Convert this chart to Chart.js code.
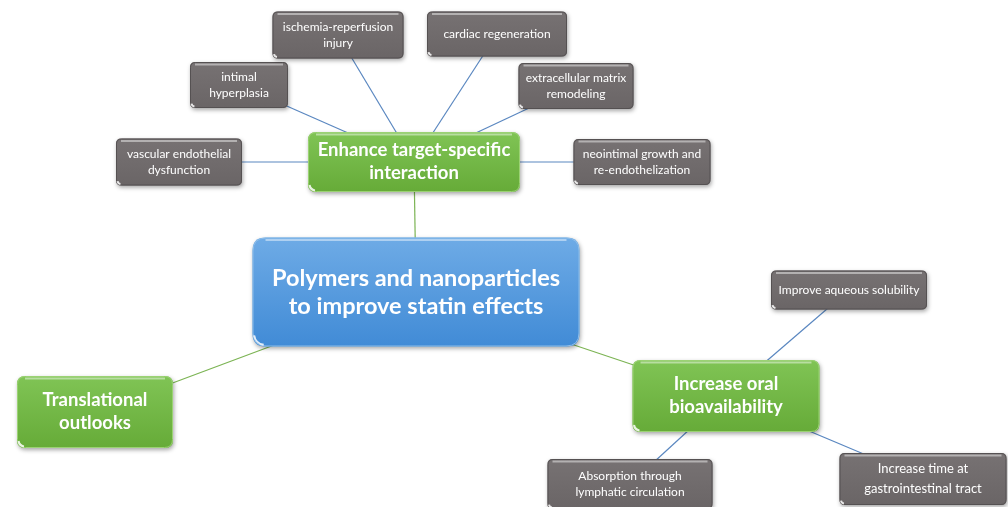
<!DOCTYPE html>
<html>
<head>
<meta charset="utf-8">
<script src="https://cdn.jsdelivr.net/npm/chart.js@4.4.1/dist/chart.umd.min.js"></script>
<style>
  html, body { margin: 0; background: #fff; }
  #map { display: block; }
</style>
</head>
<body>
<canvas id="map" width="1008" height="507"></canvas>
<script>
// mind map nodes (centres in page units, y down)
const nodeLabels = [
  "Polymers and nanoparticles\nto improve statin effects",
  "Enhance target-specific\ninteraction",
  "Translational\noutlooks",
  "Increase oral\nbioavailability",
  "vascular endothelial\ndysfunction",
  "intimal\nhyperplasia",
  "ischemia-reperfusion\ninjury",
  "cardiac regeneration",
  "extracellular matrix\nremodeling",
  "neointimal growth and\nre-endothelization",
  "Improve aqueous solubility",
  "Absorption through\nlymphatic circulation",
  "Increase time at\ngastrointestinal tract",
];
const nodeX = [416, 414, 95, 726, 179, 239, 338, 497, 576, 642, 849, 630, 923];
const nodeY = [292, 162, 412, 396, 162, 85, 35, 34, 86, 162, 290, 484, 479];
const nodeKind = ["root", "branch", "branch", "branch", "leaf", "leaf", "leaf", "leaf", "leaf", "leaf", "leaf", "leaf", "leafLoose"];
const nodeParent = [-1, 0, 0, 0, 1, 1, 1, 1, 1, 1, 3, 3, 3];

// box sizes (px)
const boxW = [327, 212, 156, 187, 126, 98, 131, 140, 115, 137, 156, 165, 167];
const boxH = [109, 60, 72, 72, 47, 46, 47, 45, 46, 46, 39, 50, 52];

const styles = {
  root:      { top: "#6eabe6", bottom: "#418bd6", border: "#8cbde9", radius: 13, font: "bold 23.5px Lato", lh: 28 },
  branch:    { top: "#80c455", bottom: "#66ab38", border: "#9bd274", radius: 8, font: "bold 18.5px Lato", lh: 23 },
  leaf:      { top: "#777273", bottom: "#6a6566", border: "#555152", radius: 5, font: "12px Lato", lh: 16 },
  leafLoose: { top: "#777273", bottom: "#6a6566", border: "#555152", radius: 5, font: "13px Lato", lh: 20 },
};

const linkColor = { leaf: "#5a87c0", leafLoose: "#5a87c0", branch: "#7cb454" };

const roundRect = (ctx, x, y, w, h, r) => {
  ctx.beginPath();
  ctx.moveTo(x + r, y);
  ctx.lineTo(x + w - r, y);
  ctx.quadraticCurveTo(x + w, y, x + w, y + r);
  ctx.lineTo(x + w, y + h - r);
  ctx.quadraticCurveTo(x + w, y + h, x + w - r, y + h);
  ctx.lineTo(x + r, y + h);
  ctx.quadraticCurveTo(x, y + h, x, y + h - r);
  ctx.lineTo(x, y + r);
  ctx.quadraticCurveTo(x, y, x + r, y);
  ctx.closePath();
};

const boxPlugin = {
  id: "boxes",
  afterDatasetsDraw(chart) {
    const ctx = chart.ctx;
    const xs = chart.scales.x, ys = chart.scales.y;
    nodeLabels.forEach((label, i) => {
      const st = styles[nodeKind[i]];
      const cx = xs.getPixelForValue(nodeX[i]);
      const cy = ys.getPixelForValue(nodeY[i]);
      const w = boxW[i], h = boxH[i];
      const x = cx - w / 2, y = cy - h / 2;

      ctx.save();
      ctx.shadowColor = "rgba(0,0,0,0.35)";
      ctx.shadowBlur = 4;
      ctx.shadowOffsetX = 1;
      ctx.shadowOffsetY = 2;
      const g = ctx.createLinearGradient(0, y, 0, y + h);
      g.addColorStop(0, st.top);
      g.addColorStop(1, st.bottom);
      roundRect(ctx, x, y, w, h, st.radius);
      ctx.fillStyle = g;
      ctx.fill();
      ctx.restore();

      ctx.save();
      roundRect(ctx, x + 0.5, y + 0.5, w - 1, h - 1, st.radius);
      ctx.strokeStyle = st.border;
      ctx.lineWidth = 1;
      ctx.stroke();
      // top highlight
      ctx.strokeStyle = "rgba(255,255,255,0.45)";
      ctx.lineWidth = 2;
      ctx.beginPath();
      ctx.moveTo(x + st.radius, y + 2.5);
      ctx.lineTo(x + w - st.radius, y + 2.5);
      ctx.stroke();
      // little light corner
      ctx.strokeStyle = "rgba(255,255,255,0.85)";
      ctx.lineWidth = 2;
      ctx.beginPath();
      ctx.arc(x + st.radius, y + h - st.radius, st.radius - 1.5, Math.PI * 0.55, Math.PI * 0.95);
      ctx.stroke();

      // text
      ctx.fillStyle = "#fff";
      ctx.font = st.font;
      ctx.textAlign = "center";
      ctx.textBaseline = "middle";
      const lines = label.split("\n");
      lines.forEach((ln, k) => {
        ctx.fillText(ln, cx, cy + (k - (lines.length - 1) / 2) * st.lh);
      });
      ctx.restore();
    });
  },
};

const datasets = nodeParent
  .map((p, i) => (p < 0 ? null : {
    data: [{ x: nodeX[p], y: nodeY[p] }, { x: nodeX[i], y: nodeY[i] }],
    showLine: true,
    borderColor: linkColor[nodeKind[i]],
    borderWidth: 1.2,
    pointRadius: 0,
  }))
  .filter(Boolean);

new Chart(document.getElementById("map"), {
  type: "scatter",
  data: { datasets },
  options: {
    responsive: false,
    devicePixelRatio: 1,
    animation: false,
    layout: { padding: 0 },
    plugins: { legend: { display: false }, tooltip: { enabled: false } },
    scales: {
      x: { type: "linear", min: 0, max: 1008, display: false },
      y: { type: "linear", min: 0, max: 507, reverse: true, display: false },
    },
  },
  plugins: [boxPlugin],
});
</script>
</body>
</html>
